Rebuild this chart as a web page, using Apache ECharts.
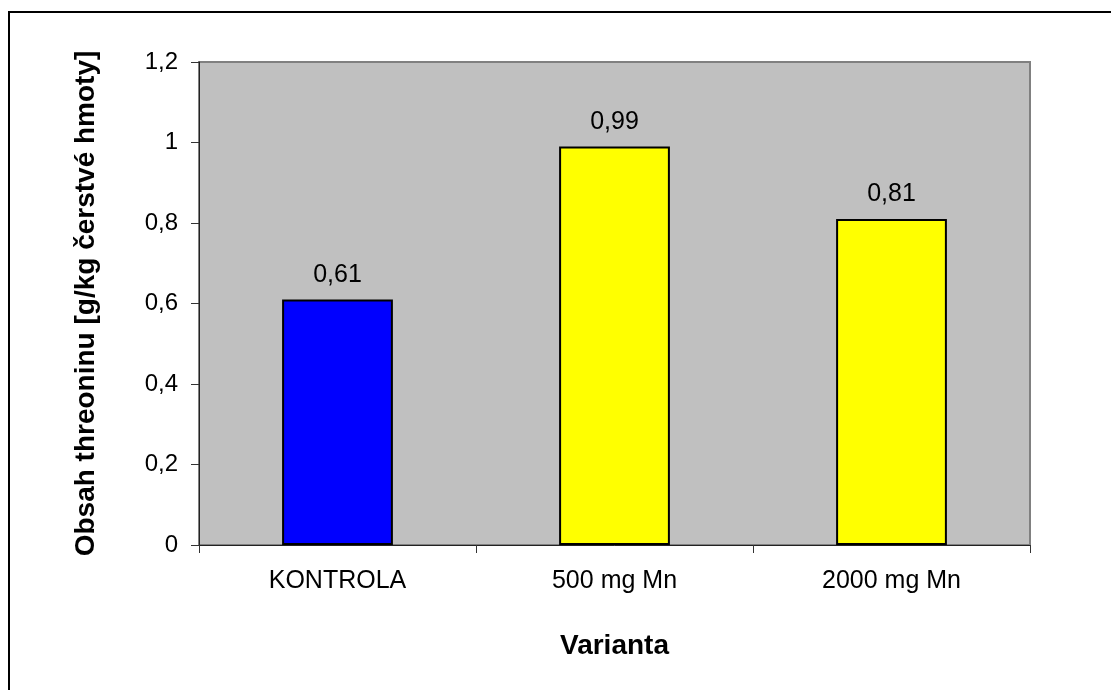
<!DOCTYPE html>
<html>
<head>
<meta charset="utf-8">
<script src="https://cdn.jsdelivr.net/npm/echarts@6/dist/echarts.min.js"></script>
<style>
  html, body { margin: 0; padding: 0; background: #fff; }
  #chart { width: 1111px; height: 690px; }
</style>
</head>
<body>
<div id="chart"></div>
<script>
// Threonine content by treatment variant
const categories = ['KONTROLA', '500 mg Mn', '2000 mg Mn'];
const values = [0.61, 0.99, 0.81];
const barColors = ['#0000FF', '#FFFF00', '#FFFF00'];
const yTitle = 'Obsah threoninu [g/kg čerstvé hmoty]';
const xTitle = 'Varianta';

const fmt = v => String(v).replace('.', ',');
const FONT = '"Liberation Sans", Arial, sans-serif';

const chart = echarts.init(document.getElementById('chart'), null, { renderer: 'canvas' });
chart.setOption({
  animation: false,
  backgroundColor: '#fff',
  textStyle: { fontFamily: FONT, color: '#000' },
  graphic: [{
    type: 'rect',
    shape: { x: 9, y: 12, width: 1200, height: 800 },
    style: { fill: 'none', stroke: '#000', lineWidth: 2 },
    silent: true,
    z: 0
  }],
  grid: {
    left: 199, right: 81, top: 62, bottom: 145,
    show: true,
    backgroundColor: '#C0C0C0',
    borderColor: '#808080',
    borderWidth: 2
  },
  xAxis: {
    type: 'category',
    data: categories,
    name: xTitle,
    nameLocation: 'middle',
    nameGap: 87,
    nameTextStyle: { fontFamily: FONT, fontSize: 28, fontWeight: 'bold', color: '#000' },
    axisLine: { lineStyle: { color: '#222', width: 1 } },
    axisTick: { show: true, length: 8, lineStyle: { color: '#333' } },
    axisLabel: { fontFamily: FONT, fontSize: 25, color: '#000', margin: 24 }
  },
  yAxis: {
    type: 'value',
    min: 0, max: 1.2, interval: 0.2,
    name: yTitle,
    nameLocation: 'middle',
    nameGap: 99,
    nameTextStyle: { fontFamily: FONT, fontSize: 28, fontWeight: 'bold', color: '#000' },
    axisLine: { show: true, lineStyle: { color: '#222', width: 1 } },
    axisTick: { show: true, length: 8, lineStyle: { color: '#333' } },
    splitLine: { show: false },
    axisLabel: {
      fontFamily: FONT, fontSize: 24, color: '#000', margin: 21,
      formatter: v => fmt(Math.round(v * 10) / 10)
    }
  },
  series: [{
    type: 'bar',
    barWidth: '40%',
    data: values.map((v, i) => ({
      value: v,
      itemStyle: { color: barColors[i], borderColor: '#000', borderWidth: 2 }
    })),
    label: {
      show: true,
      position: 'top',
      distance: 12,
      fontFamily: FONT,
      fontSize: 25,
      color: '#000',
      formatter: p => fmt(p.value)
    }
  }]
});
</script>
</body>
</html>
